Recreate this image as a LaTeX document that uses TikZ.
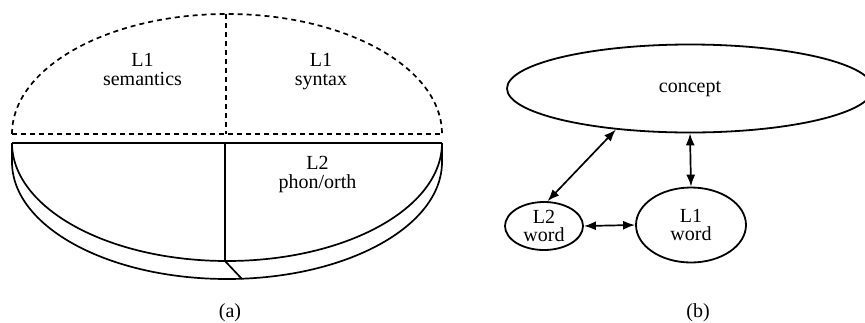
\documentclass[tikz,border=0pt]{standalone}
\usepackage{fontspec}
\setmainfont{Liberation Serif}
\usetikzlibrary{shapes.geometric,arrows.meta}
\tikzset{
  lbl/.style={align=center,anchor=base,inner sep=0pt,font=\fontsize{20}{18.5}\selectfont},
  wordnode/.style={ellipse,draw,line width=1.8pt,inner sep=0pt,align=center,font=\fontsize{20}{18.5}\selectfont},
  dline/.style={line width=1.7pt,dash pattern=on 5pt off 4pt},
  sline/.style={line width=1.7pt},
  link/.style={line width=1.7pt,{Latex[length=12pt,width=9pt]}-{Latex[length=12pt,width=9pt]}}
}
\begin{document}
\begin{tikzpicture}[x=1pt,y=-1pt]
\useasboundingbox (0,0) rectangle (865,322);
% (a) upper dashed half
\draw[dline] (12,134) arc[start angle=180,end angle=360,x radius=215,y radius=120];
\draw[dline] (12,134) -- (442,134);
\draw[dline] (226,14) -- (226,134);
% (a) lower solid part
\draw[sline] (12,143) arc[start angle=180,end angle=0,x radius=215,y radius=118];
\draw[sline] (12,143) -- (12,162) arc[start angle=180,end angle=0,x radius=215,y radius=117] -- (442,143);
\draw[line width=2.6pt] (12,143) -- (442,143);
\draw[sline] (225,143) -- (225,261) -- (242,279);
\node[lbl] (sem) at (142.5,85) {L1\\semantics};
\node[lbl] (syn) at (321,85) {L1\\syntax};
\node[lbl] (pho) at (317.5,188) {L2\\phon/orth};
\node[lbl] (capa) at (230,317) {(a)};
% (b)
\node[wordnode,minimum width=366pt,minimum height=88pt] (concept) at (690,88.5) {concept};
\node[wordnode,minimum width=78pt,minimum height=48pt] (l2) at (544,226) {L2\\word};
\node[wordnode,minimum width=110pt,minimum height=75pt] (l1) at (691,225) {L1\\word};
\draw[link] (concept.209) -- (l2.82);
\draw[link] (concept.south) -- (l1.north);
\draw[link] (l2.east) -- (l1.west);
\node[lbl] (capb) at (698,317) {(b)};
\end{tikzpicture}
\end{document}
